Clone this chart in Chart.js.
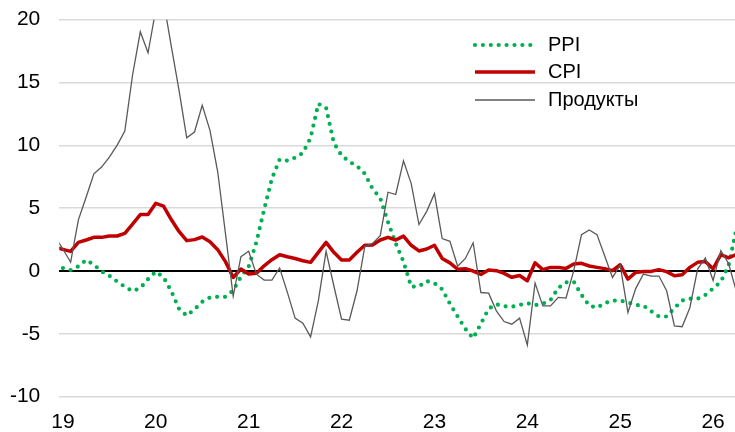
<!DOCTYPE html>
<html>
<head>
<meta charset="utf-8">
<script src="https://cdn.jsdelivr.net/npm/chart.js@4/dist/chart.umd.min.js"></script>
<style>
  html, body { margin: 0; padding: 0; background: #ffffff; }
  #wrap { width: 735px; height: 432px; position: relative; }
</style>
</head>
<body>
<div id="wrap"><canvas id="c" width="735" height="432"></canvas></div>
<script>
// ---- categories (months, Dec 2018 .. Apr 2026) ----
const months = [
  '2018-12',
  '2019-01','2019-02','2019-03','2019-04','2019-05','2019-06','2019-07','2019-08','2019-09','2019-10','2019-11','2019-12',
  '2020-01','2020-02','2020-03','2020-04','2020-05','2020-06','2020-07','2020-08','2020-09','2020-10','2020-11','2020-12',
  '2021-01','2021-02','2021-03','2021-04','2021-05','2021-06','2021-07','2021-08','2021-09','2021-10','2021-11','2021-12',
  '2022-01','2022-02','2022-03','2022-04','2022-05','2022-06','2022-07','2022-08','2022-09','2022-10','2022-11','2022-12',
  '2023-01','2023-02','2023-03','2023-04','2023-05','2023-06','2023-07','2023-08','2023-09','2023-10','2023-11','2023-12',
  '2024-01','2024-02','2024-03','2024-04','2024-05','2024-06','2024-07','2024-08','2024-09','2024-10','2024-11','2024-12',
  '2025-01','2025-02','2025-03','2025-04','2025-05','2025-06','2025-07','2025-08','2025-09','2025-10','2025-11','2025-12',
  '2026-01','2026-02','2026-03','2026-04'
];

// ---- tick labels ----
const yearLabels = ['19','20','21','22','23','24','25','26'];
const yTicks = [20, 15, 10, 5, 0, -5, -10];

// ---- series ----
const seriesNames = ['PPI', 'CPI', 'Продукты'];

const ppi = [
  0.35,
  0.24, 0.08, 0.37, 0.88, 0.5, -0.03, -0.37, -0.83, -1.25, -1.6, -1.35, -0.64,
  -0.05, -0.5, -1.6, -3.0, -3.55, -3.05, -2.45, -2.1, -2.05, -2.05, -1.55, -0.45,
  0.35, 2.3, 4.9, 7.35, 8.88, 8.78, 9.02, 9.4, 10.6, 13.3, 13.0, 10.2,
  9.2, 8.7, 8.35, 7.75, 6.55, 5.8, 3.9, 2.2, 0.75, -1.25, -1.22, -0.8,
  -0.97, -1.45, -2.6, -3.62, -4.6, -5.35, -4.2, -3.0, -2.65, -2.8, -2.85, -2.7,
  -2.56, -2.72, -2.6, -2.3, -1.35, -0.9, -0.85, -1.9, -2.75, -2.92, -2.55, -2.35,
  -2.35, -2.5, -2.7, -2.75, -3.2, -3.62, -3.62, -2.95, -2.35, -2.2, -2.2, -1.9,
  -1.39, -0.85, 0.45, 3.3
];

const cpi = [
  1.88,
  1.72, 1.56, 2.28, 2.47, 2.68, 2.68, 2.79, 2.79, 3.0, 3.74, 4.49, 4.49,
  5.39, 5.17, 4.1, 3.15, 2.42, 2.5, 2.71, 2.33, 1.7, 0.75, -0.51, 0.16,
  -0.24, -0.18, 0.42, 0.9, 1.3, 1.14, 1.0, 0.82, 0.69, 1.49, 2.28, 1.49,
  0.88, 0.88, 1.49, 2.05, 2.07, 2.47, 2.68, 2.47, 2.78, 2.05, 1.6, 1.75,
  2.05, 1.0, 0.65, 0.14, 0.19, 0.0, -0.27, 0.08, 0.03, -0.19, -0.5, -0.35,
  -0.77, 0.66, 0.11, 0.29, 0.29, 0.21, 0.56, 0.61, 0.4, 0.29, 0.19, 0.03,
  0.5, -0.64, -0.11, -0.04, -0.03, 0.11, -0.05, -0.37, -0.29, 0.29, 0.69, 0.75,
  0.18, 1.3, 1.05, 1.3
];

const food = [
  2.7,
  1.75, 0.7, 4.07, 5.87, 7.74, 8.27, 9.07, 10.0, 11.14, 15.6, 19.04, 17.37,
  20.8, 21.5, 17.9, 14.4, 10.6, 11.06, 13.19, 11.2, 7.9, 3.0, -2.0, 1.14,
  1.57, -0.25, -0.72, -0.72, 0.24, -1.7, -3.75, -4.15, -5.24, -2.37, 1.57, -1.17,
  -3.83, -3.91, -1.57, 1.94, 2.2, 2.82, 6.27, 6.09, 8.77, 6.96, 3.7, 4.75,
  6.16, 2.58, 2.36, 0.38, 1.0, 2.25, -1.71, -1.76, -3.17, -4.02, -4.23, -3.75,
  -5.88, -0.96, -2.77, -2.77, -2.1, -2.15, 0.03, 2.9, 3.27, 2.9, 1.2, -0.51,
  0.45, -3.3, -1.4, -0.24, -0.4, -0.4, -1.57, -4.37, -4.43, -2.92, 0.16, 1.04,
  -0.75, 1.62, 0.6, -1.6
];

// month position relative to Jan 2019 (derived from the category strings)
const monthPos = months.map(m => {
  const [y, mo] = m.split('-').map(Number);
  return (y - 2019) * 12 + (mo - 1);
});
const toPoints = arr => arr.map((v, k) => ({ x: monthPos[k], y: v }));

const FONT = "'Liberation Sans', Arial, sans-serif";

const legendPlugin = {
  id: 'insideLegend',
  afterDraw(chart) {
    const ctx = chart.ctx;
    const rows = [45, 72, 100];
    const x0 = 475, x1 = 535, tx = 548;
    ctx.save();
    chart.data.datasets.forEach((ds, k) => {
      const y = rows[k];
      ctx.beginPath();
      ctx.lineWidth = ds.borderWidth;
      ctx.strokeStyle = ds.borderColor;
      ctx.lineCap = ds.borderCapStyle || 'butt';
      ctx.setLineDash(ds.borderDash || []);
      ctx.moveTo(x0, y);
      ctx.lineTo(x1, y);
      ctx.stroke();
      ctx.setLineDash([]);
      ctx.fillStyle = '#000000';
      ctx.font = '20px ' + FONT;
      ctx.textAlign = 'left';
      ctx.textBaseline = 'middle';
      ctx.fillText(ds.label, tx, y);
    });
    ctx.restore();
  }
};

new Chart(document.getElementById('c'), {
  type: 'line',
  data: {
    datasets: [
      {
        label: seriesNames[0],
        data: toPoints(ppi),
        borderColor: '#00B050',
        borderWidth: 4.2,
        borderDash: [0, 7.9],
        borderCapStyle: 'round',
        pointRadius: 0,
        tension: 0,
        order: 2
      },
      {
        label: seriesNames[1],
        data: toPoints(cpi),
        borderColor: '#C00000',
        borderWidth: 3.5,
        borderJoinStyle: 'round',
        pointRadius: 0,
        tension: 0,
        order: 1
      },
      {
        label: seriesNames[2],
        data: toPoints(food),
        borderColor: '#595959',
        borderWidth: 1.3,
        pointRadius: 0,
        tension: 0,
        order: 0
      }
    ]
  },
  options: {
    responsive: false,
    animation: false,
    devicePixelRatio: 1,
    layout: { padding: { top: 19.7, right: 0, bottom: 0, left: 0 } },
    plugins: {
      legend: { display: false },
      tooltip: { enabled: false }
    },
    scales: {
      x: {
        type: 'linear',
        min: -0.465,
        max: 86.83,
        grid: { display: false, drawTicks: false },
        border: { display: false },
        afterBuildTicks(scale) {
          scale.ticks = yearLabels.map((_, k) => ({ value: k * 12 }));
        },
        afterFit(scale) {
          scale.height = 35.3;
          scale.paddingLeft = 0;
          scale.paddingRight = 0;
        },
        ticks: {
          autoSkip: false,
          maxRotation: 0,
          padding: 13,
          color: '#000000',
          font: { family: FONT, size: 21 },
          callback: (v) => yearLabels[Math.round(v / 12)]
        }
      },
      y: {
        min: -10,
        max: 20,
        grid: {
          drawTicks: false,
          color: (c) => (c.tick && c.tick.value === 0) ? '#000000' : '#D9D9D9',
          lineWidth: (c) => (c.tick && c.tick.value === 0) ? 2 : 1.6
        },
        border: { display: false },
        afterBuildTicks(scale) {
          scale.ticks = yTicks.map(v => ({ value: v }));
        },
        afterFit(scale) {
          scale.width = 59.3;
          scale.paddingTop = 0;
          scale.paddingBottom = 0;
        },
        ticks: {
          padding: 19,
          color: '#000000',
          font: { family: FONT, size: 21 },
          callback: (v) => String(v)
        }
      }
    }
  },
  plugins: [legendPlugin]
});
</script>
</body>
</html>
